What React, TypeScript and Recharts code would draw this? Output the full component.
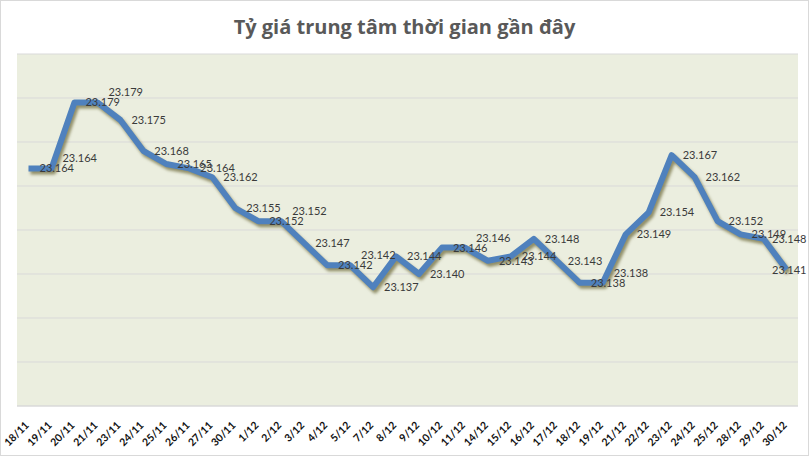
import { CartesianGrid, LabelList, Line, LineChart, XAxis, YAxis } from "recharts";

const dates = [
  "18/11", "19/11", "20/11", "21/11", "23/11", "24/11", "25/11", "26/11", "27/11", "30/11",
  "1/12", "2/12", "3/12", "4/12", "5/12", "7/12", "8/12", "9/12", "10/12", "11/12",
  "14/12", "15/12", "16/12", "17/12", "18/12", "19/12", "21/12", "22/12", "23/12", "24/12",
  "25/12", "28/12", "29/12", "30/12",
];

const rates = [
  23.164, 23.164, 23.179, 23.179, 23.175, 23.168, 23.165, 23.164, 23.162, 23.155,
  23.152, 23.152, 23.147, 23.142, 23.142, 23.137, 23.144, 23.14, 23.146, 23.146,
  23.143, 23.144, 23.148, 23.143, 23.138, 23.138, 23.149, 23.154, 23.167, 23.162,
  23.152, 23.149, 23.148, 23.141,
];

const yTicks = [23.11, 23.12, 23.13, 23.14, 23.15, 23.16, 23.17, 23.18, 23.19];

const data = dates.map((d, i) => ({ date: d, rate: rates[i] }));

const FONT = "Lato, 'Open Sans', sans-serif";

function DateTick(props: any) {
  const { x, y, payload } = props;
  const ax = x + 1;
  const ay = y + 12;
  return (
    <text
      x={ax}
      y={ay}
      transform={`rotate(-45, ${ax}, ${ay})`}
      textAnchor="end"
      fontFamily={FONT}
      fontWeight={700}
      fontSize={10.5}
      fill="#111"
    >
      {payload.value}
    </text>
  );
}

function RateLabel(props: any) {
  const { x, y, value, index } = props;
  // keep labels inside the plot on the right edge
  const lx = Math.min(x + 11, 772);
  // flat step: lift the second label so it doesn't sit on the first
  const lift = index > 0 && rates[index - 1] === value ? -10 : 0;
  return (
    <text x={lx} y={y + 4 + lift} fontFamily={FONT} fontSize={11} fill="#3a3a3a">
      {Number(value).toFixed(3)}
    </text>
  );
}

export default function App() {
  return (
    <div
      style={{
        position: "absolute",
        left: 0,
        top: 0,
        width: 807,
        height: 454,
        border: "1px solid #d9d9d9",
        background: "#fff",
        overflow: "hidden",
      }}
    >
      <style>{`.recharts-line-curve { filter: drop-shadow(2px 3px 1.5px rgba(95, 90, 40, 0.65)); }`}</style>
      <div
        style={{
          position: "absolute",
          left: 0,
          width: 807,
          top: 12,
          textAlign: "center",
          fontFamily: "'Open Sans', sans-serif",
          fontWeight: 700,
          fontSize: 20,
          color: "#595959",
        }}
      >
        Tỷ giá trung tâm thời gian gần đây
      </div>
      <div style={{ position: "absolute", left: -1, top: -1 }}>
        <LineChart width={811} height={458} data={data} margin={{ top: 54, right: 13, bottom: 0, left: 17 }}>
          <CartesianGrid vertical={false} stroke="#d9d9d9" fill="#ebeedf" />
          <XAxis
            dataKey="date"
            interval={0}
            height={52}
            padding={{ left: 11.5, right: 11.5 }}
            tickLine={false}
            axisLine={{ stroke: "#d9d9d9" }}
            tick={<DateTick />}
          />
          <YAxis hide domain={[23.11, 23.19]} ticks={yTicks} />
          <Line
            type="linear"
            dataKey="rate"
            stroke="#4f81bd"
            strokeWidth={6}
            strokeLinejoin="round"
            dot={false}
            isAnimationActive={false}
          >
            <LabelList dataKey="rate" content={<RateLabel />} />
          </Line>
        </LineChart>
      </div>
    </div>
  );
}
